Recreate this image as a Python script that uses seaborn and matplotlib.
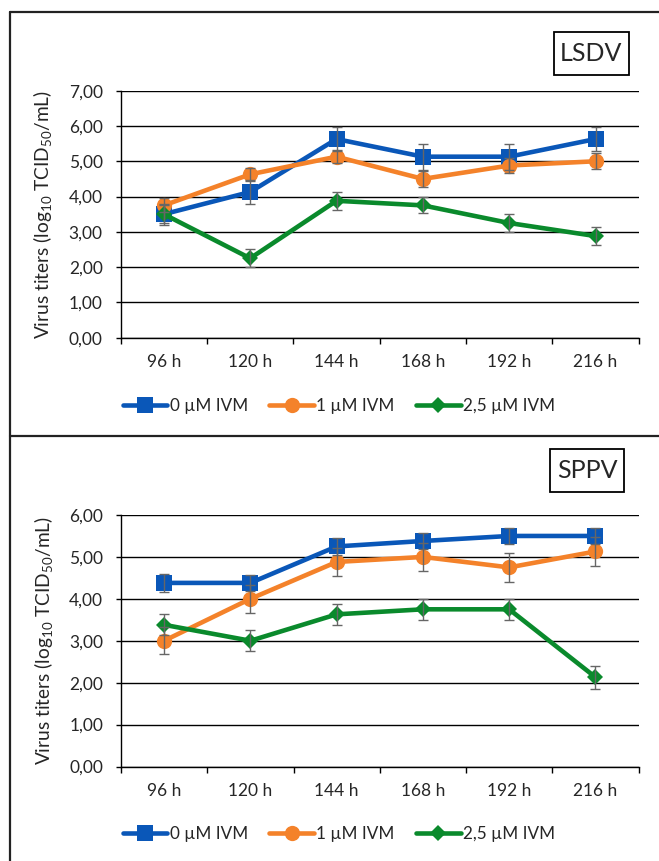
import numpy as np
import pandas as pd
import matplotlib
matplotlib.use('Agg')
import matplotlib.pyplot as plt
import seaborn as sns
from matplotlib.lines import Line2D
from matplotlib.patches import Rectangle
from matplotlib.ticker import FuncFormatter, FixedLocator

# Data
TIMES = ['96 h', '120 h', '144 h', '168 h', '192 h', '216 h']
SERIES = ['0 µM IVM', '1 µM IVM', '2,5 µM IVM']

LSDV_0 = [3.50, 4.13, 5.63, 5.13, 5.13, 5.63]
LSDV_0_ERR = [0.30, 0.33, 0.35, 0.37, 0.37, 0.35]
LSDV_1 = [3.75, 4.63, 5.13, 4.50, 4.88, 5.00]
LSDV_1_ERR = [0.20, 0.18, 0.18, 0.22, 0.20, 0.23]
LSDV_25 = [3.50, 2.25, 3.88, 3.75, 3.25, 2.88]
LSDV_25_ERR = [0.25, 0.25, 0.25, 0.23, 0.26, 0.26]

SPPV_0 = [4.38, 4.38, 5.25, 5.38, 5.50, 5.50]
SPPV_0_ERR = [0.22, 0.20, 0.20, 0.20, 0.20, 0.20]
SPPV_1 = [3.00, 4.00, 4.88, 5.00, 4.75, 5.13]
SPPV_1_ERR = [0.32, 0.33, 0.33, 0.33, 0.34, 0.35]
SPPV_25 = [3.38, 3.00, 3.63, 3.75, 3.75, 2.13]
SPPV_25_ERR = [0.25, 0.25, 0.25, 0.25, 0.25, 0.27]

# Style
COLORS = ['#0A57B8', '#F4822A', '#0A8A2C']
MARKERS = ['s', 'o', 'D']
MARKER_SIZES = {'s': 11, 'o': 11, 'D': 8.5}
ERR_COLOR = '#666666'
TICK_SIZE = 12.5
W, H = 659, 861

sns.set_style('white')
plt.rcParams['font.family'] = ['Lato', 'DejaVu Sans']
plt.rcParams['mathtext.fontset'] = 'custom'
plt.rcParams['mathtext.rm'] = 'Lato'
plt.rcParams['mathtext.default'] = 'regular'


def px_rect(left, top, right, bottom):
    return [left / W, 1 - bottom / H, (right - left) / W, (bottom - top) / H]


def draw_panel(fig, rect, values, errors, ymax, tag, tag_box, legend_y):
    ax = fig.add_axes(px_rect(*rect))

    df = pd.DataFrame({
        'time': TIMES * 3,
        'value': sum(values, []),
        'series': np.repeat(SERIES, len(TIMES)),
    })

    sns.lineplot(data=df, x='time', y='value', hue='series', style='series',
                 palette=COLORS, markers=MARKERS, dashes=False,
                 linewidth=3.3, markeredgewidth=0, sort=False, ax=ax)
    for line in ax.lines:
        m = line.get_marker()
        if m in MARKER_SIZES:
            line.set_markersize(MARKER_SIZES[m])

    for vals, errs in zip(values, errors):
        ax.errorbar(range(len(TIMES)), vals, yerr=errs, fmt='none',
                    ecolor=ERR_COLOR, elinewidth=1.0, capsize=3.5,
                    capthick=1.0, zorder=5)

    ax.set_xlim(-0.5, len(TIMES) - 0.5)
    ax.set_ylim(0, ymax)
    ax.set_yticks(range(ymax + 1))
    ax.yaxis.set_major_formatter(FuncFormatter(lambda v, p: f'{v:.2f}'.replace('.', ',')))
    ax.grid(axis='y', color='black', linewidth=1.0)
    ax.set_axisbelow(True)

    # category boundary ticks, labels in the middle
    ax.xaxis.set_major_locator(FixedLocator(np.arange(-0.5, len(TIMES), 1.0)))
    ax.xaxis.set_minor_locator(FixedLocator(np.arange(len(TIMES))))
    ax.set_xticklabels([''] * (len(TIMES) + 1))
    ax.set_xticklabels(TIMES, minor=True)
    ax.tick_params(axis='x', which='major', direction='out', length=4.3,
                   width=1.0, color='black', bottom=True)
    ax.tick_params(axis='x', which='minor', length=0, pad=12, labelsize=TICK_SIZE)
    ax.tick_params(axis='y', direction='out', length=3.4, width=1.0,
                   color='black', left=True, pad=9.5, labelsize=TICK_SIZE)

    for s in ['top', 'right']:
        ax.spines[s].set_visible(False)
    for s in ['left', 'bottom']:
        ax.spines[s].set_color('black')
        ax.spines[s].set_linewidth(1.0)

    ax.set_xlabel('')
    ax.set_ylabel('Virus titers (log$_{10}$ TCID$_{50}$/mL)', fontsize=13.8)
    ax.yaxis.set_label_coords(-0.128, 0.5)

    handles, labels = ax.get_legend_handles_labels()
    ax.legend(handles, labels, loc='center',
              bbox_to_anchor=(339 / W, 1 - (legend_y + 1) / H),
              bbox_transform=fig.transFigure, ncol=3, frameon=False,
              fontsize=12.3, handlelength=2.6, handletextpad=0.15,
              columnspacing=1.25)

    # tag box
    l, t, r, b = tag_box
    fig.add_artist(Rectangle((l / W, 1 - b / H), (r - l) / W, (b - t) / H,
                             transform=fig.transFigure, fill=False,
                             edgecolor='black', linewidth=1.3))
    fig.text((l + r) / 2 / W, 1 - (t + b) / 2 / H, tag, ha='center',
             va='center', fontsize=18)
    return ax


fig = plt.figure(figsize=(W / 100, H / 100), dpi=100)

draw_panel(fig, (120.7, 90.7, 638.7, 337.7),
           [LSDV_0, LSDV_1, LSDV_25], [LSDV_0_ERR, LSDV_1_ERR, LSDV_25_ERR],
           7, 'LSDV', (554, 32, 628.7, 75), 405)
draw_panel(fig, (121, 515, 638.6, 766.5),
           [SPPV_0, SPPV_1, SPPV_25], [SPPV_0_ERR, SPPV_1_ERR, SPPV_25_ERR],
           6, 'SPPV', (549.6, 449.5, 624.4, 492.5), 832.7)

# panel frames
for xs, ys in [([9.5, 9.5], [12, H]), ([9.5, W], [12, 12]), ([9.5, W], [436, 436])]:
    fig.add_artist(Line2D([x / W for x in xs], [1 - y / H for y in ys],
                          transform=fig.transFigure, color='#222222', linewidth=1.6))

fig.savefig('out.png', dpi=100, facecolor='white')
